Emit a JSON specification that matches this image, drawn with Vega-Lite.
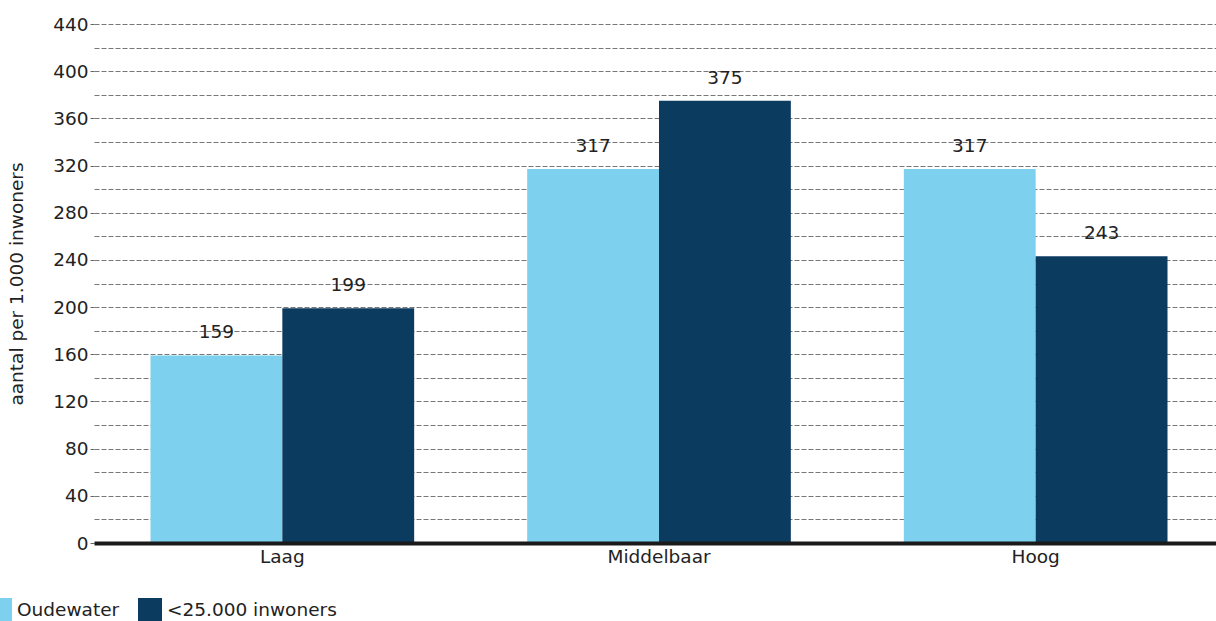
{
  "$schema": "https://vega.github.io/schema/vega-lite/v6.json",
  "autosize": {"type": "none"},
  "padding": {"left": 94, "top": 24, "right": 0, "bottom": 78},
  "width": 1130,
  "height": 519,
  "background": "white",
  "config": {
    "font": "DejaVu Sans",
    "view": {"stroke": null}
  },
  "data": {
    "values": [
      {"niveau": "Laag", "groep": "Oudewater", "waarde": 159},
      {"niveau": "Laag", "groep": "<25.000 inwoners", "waarde": 199},
      {"niveau": "Middelbaar", "groep": "Oudewater", "waarde": 317},
      {"niveau": "Middelbaar", "groep": "<25.000 inwoners", "waarde": 375},
      {"niveau": "Hoog", "groep": "Oudewater", "waarde": 317},
      {"niveau": "Hoog", "groep": "<25.000 inwoners", "waarde": 243}
    ]
  },
  "encoding": {
    "x": {
      "field": "niveau",
      "type": "nominal",
      "sort": ["Laag", "Middelbaar", "Hoog"],
      "scale": {"paddingInner": 0.3, "paddingOuter": 0.15},
      "axis": {
        "title": null,
        "labelAngle": 0,
        "labelFontSize": 18.5,
        "labelColor": "#222222",
        "labelPadding": 4,
        "ticks": false,
        "domain": true,
        "domainColor": "#1a1a1a",
        "domainWidth": 4,
        "grid": false,
        "zindex": 2
      }
    },
    "xOffset": {
      "field": "groep",
      "type": "nominal",
      "sort": ["Oudewater", "<25.000 inwoners"]
    },
    "y": {
      "field": "waarde",
      "type": "quantitative",
      "scale": {"domain": [0, 440], "nice": false},
      "axis": {
        "title": "aantal per 1.000 inwoners",
        "titleFontSize": 18.5,
        "titleFontWeight": "normal",
        "titleColor": "#222222",
        "titlePadding": 26,
        "values": [0, 20, 40, 60, 80, 100, 120, 140, 160, 180, 200, 220, 240, 260, 280, 300, 320, 340, 360, 380, 400, 420, 440],
        "labelExpr": "datum.value % 40 == 0 ? datum.label : ''",
        "labelFontSize": 18.5,
        "labelColor": "#222222",
        "labelPadding": 2,
        "domain": false,
        "ticks": true,
        "tickSize": 4,
        "tickColor": "#666666",
        "tickOpacity": {"condition": {"test": "datum.value % 40 == 0", "value": 1}, "value": 0},
        "grid": true,
        "gridColor": "#777777",
        "gridDash": [5, 2],
        "gridWidth": 1,
        "gridOpacity": 1
      }
    }
  },
  "layer": [
    {
      "mark": {"type": "bar"},
      "encoding": {
        "color": {
          "field": "groep",
          "type": "nominal",
          "sort": ["Oudewater", "<25.000 inwoners"],
          "scale": {"domain": ["Oudewater", "<25.000 inwoners"], "range": ["#7ED1EE", "#0B3B5F"]},
          "legend": {
            "title": null,
            "orient": "none",
            "direction": "horizontal",
            "legendX": -106,
            "legendY": 574,
            "symbolType": "square",
            "symbolSize": 576,
            "symbolStrokeWidth": 0,
            "labelFontSize": 18.5,
            "labelColor": "#222222",
            "labelOffset": 5,
            "labelLimit": 400,
            "columnPadding": 18
          }
        }
      }
    },
    {
      "mark": {"type": "text", "dy": -13, "fontSize": 18.5, "color": "#222222", "baseline": "bottom"},
      "encoding": {
        "text": {"field": "waarde", "type": "quantitative"}
      }
    }
  ]
}
